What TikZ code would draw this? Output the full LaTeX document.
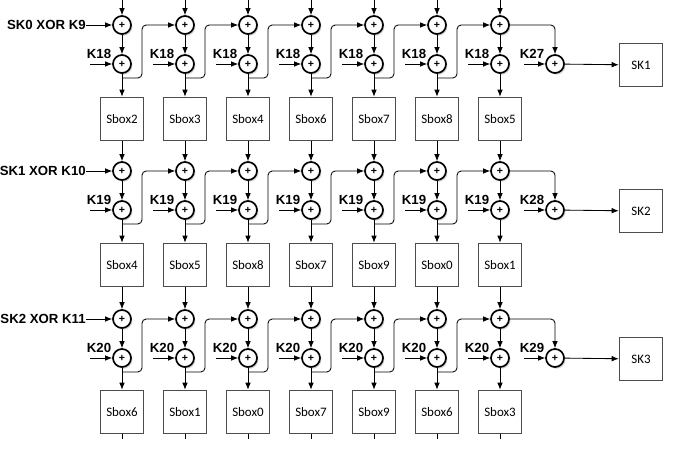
\documentclass[tikz,border=0pt]{standalone}
\usepackage{fontspec}
\setsansfont{Liberation Sans}
\newfontfamily\boxfont{Carlito}
\usetikzlibrary{arrows.meta,shadows}

\tikzset{
  xorgate/.style={circle,draw,line width=1.2pt,fill=white,minimum size=12.8pt,inner sep=0pt,
    font=\sffamily\bfseries\fontsize{7.5}{7.5}\selectfont,
    drop shadow={shadow xshift=1pt,shadow yshift=-1.2pt,opacity=0.35}},
  sbox/.style={rectangle,draw=black!70,line width=0.7pt,fill=white,minimum width=31pt,minimum height=31pt,
    font=\boxfont\fontsize{9.2}{10}\selectfont},
  keylab/.style={font=\sffamily\bfseries\fontsize{9.4}{10}\selectfont,inner sep=0pt},
  wire/.style={line width=0.6pt,-{Latex[length=5pt,width=4pt]}},
}

\begin{document}
\begin{tikzpicture}[x=0.025cm,y=-0.025cm]
  \useasboundingbox (0,0) rectangle (676,464);

  % s-boxes
  \foreach \c/\sb in {1/2,2/3,3/4,4/6,5/7,6/8,7/5}
    \node[sbox] (s1-\c) at ({59+63*\c},119) {Sbox\sb};
  \foreach \c/\sb in {1/4,2/5,3/8,4/7,5/9,6/0,7/1}
    \node[sbox] (s2-\c) at ({59+63*\c},265) {Sbox\sb};
  \foreach \c/\sb in {1/6,2/1,3/0,4/7,5/9,6/6,7/3}
    \node[sbox] (s3-\c) at ({59+63*\c},412) {Sbox\sb};

  % rounds
  \foreach \r/\dy/\key/\kout/\lab in {1/0/K18/K27/SK0 XOR K9,2/146/K19/K28/SK1 XOR K10,3/294/K20/K29/SK2 XOR K11}{
    \foreach \c in {1,...,7}{
      \node[xorgate] (x\r-\c) at ({59+63*\c},{25+\dy}) {+};
      \node[xorgate] (y\r-\c) at ({59+63*\c},{64+\dy}) {+};
      \coordinate (ka\r-\c) at ({27+63*\c},{64+\dy});
      \coordinate (br\r-\c) at ({59+63*\c},{78+\dy});
      \node[keylab] (kl\r-\c) at ({36+63*\c},{54+\dy}) {\key};
      \draw[wire] (x\r-\c) -- (y\r-\c);
      \draw[wire] (ka\r-\c) -- (y\r-\c);
      \draw[wire] (y\r-\c) -- (s\r-\c);
    }
    \foreach \c [evaluate=\c as \nc using int(\c+1)] in {1,...,6}
      \draw[wire,rounded corners=3pt] (br\r-\c) -- ++(20,0) |- (x\r-\nc);
    % last column
    \node[xorgate] (o\r) at (555,{64+\dy}) {+};
    \coordinate (kb\r) at (524,{64+\dy});
    \node[keylab] (kbl\r) at (532,{54+\dy}) {\kout};
    \node[sbox] (k\r) at (641,{65+\dy}) {SK\r};
    \draw[wire,rounded corners=3pt] (x\r-7) -| (o\r);
    \draw[wire] (kb\r) -- (o\r);
    \draw[wire] (o\r) -- (k\r);
    % round input
    \node[keylab,anchor=east] (l\r) at (86,{25+\dy}) {\lab};
    \draw[wire] (l\r) -- (x\r-1);
  }

  % inputs from above and between rounds
  \foreach \c in {1,...,7}{
    \coordinate (t-\c) at ({59+63*\c},0);
    \coordinate (e-\c) at ({59+63*\c},439);
    \draw[wire] (t-\c) -- (x1-\c);
    \draw[wire] (s1-\c) -- (x2-\c);
    \draw[wire] (s2-\c) -- (x3-\c);
    \draw[line width=0.6pt] (s3-\c) -- (e-\c);
  }
\end{tikzpicture}
\end{document}
